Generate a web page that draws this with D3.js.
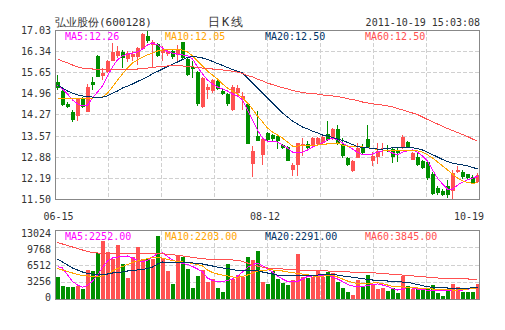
<!DOCTYPE html>
<html><head><meta charset="utf-8">
<script src="https://cdn.jsdelivr.net/npm/d3@7/dist/d3.min.js"></script>
<style>
body{margin:0;background:#fff}
text{font-family:"DejaVu Sans Mono",monospace;font-size:10px}
</style></head>
<body><svg id="c" width="505" height="330"></svg>
<script>
// Trading days, 2011-06-15 .. 2011-10-19
const dates = [
"06-15","06-16","06-17","06-20","06-21","06-22","06-23","06-24","06-27","06-28","06-29","06-30",
"07-01","07-04","07-05","07-06","07-07","07-08","07-11","07-12","07-13","07-14","07-15","07-18","07-19","07-20","07-21","07-22","07-25","07-26","07-27","07-28","07-29",
"08-01","08-02","08-03","08-04","08-05","08-08","08-09","08-10","08-11","08-12","08-15","08-16","08-17","08-18","08-19","08-22","08-23","08-24","08-25","08-26","08-29","08-30","08-31",
"09-01","09-02","09-05","09-06","09-07","09-08","09-09","09-13","09-14","09-15","09-16","09-19","09-20","09-21","09-22","09-23","09-26","09-27","09-28","09-29","09-30",
"10-10","10-11","10-12","10-13","10-14","10-17","10-18","10-19"];
const dateTicks = ["06-15","08-12","10-19"];

const open = [15.36,15.05,14.64,14.35,14.24,14.79,14.37,15.33,16.20,15.55,
15.66,16.03,16.21,16.34,16.11,16.15,16.15,16.41,16.84,16.57,
16.59,16.29,16.26,16.35,16.24,16.64,16.11,15.83,15.68,14.53,
15.09,15.04,15.39,15.06,14.96,14.44,14.99,14.79,14.63,12.67,
13.58,12.95,13.68,13.61,13.57,13.27,13.21,12.48,12.62,13.26,
13.32,13.28,13.30,13.35,13.64,13.50,13.81,13.31,12.87,12.43,
12.87,13.23,13.48,12.76,12.90,13.15,13.20,13.15,13.09,13.17,
13.37,12.79,12.90,12.76,12.74,12.32,11.89,11.78,11.95,11.78,
12.39,12.41,12.32,12.25,12.08];
const high = [15.57,15.08,14.70,14.43,14.80,14.86,15.27,15.52,16.22,15.81,
16.05,16.61,16.53,16.40,16.35,16.36,16.50,16.95,17.03,16.73,
16.62,16.51,16.42,16.40,16.57,16.66,16.15,16.02,15.72,15.50,
15.28,15.45,15.42,15.10,15.00,15.25,15.25,15.02,14.65,13.25,
14.40,13.50,13.72,13.65,13.60,13.30,13.25,12.70,13.36,13.51,
13.40,13.55,13.55,13.60,14.06,13.85,13.94,13.50,12.90,12.79,
13.34,13.30,13.94,13.06,13.34,13.34,13.28,13.23,13.18,13.61,
13.40,13.05,13.06,12.80,12.78,12.40,11.95,11.85,12.14,12.47,
12.58,12.47,12.35,12.30,12.36];
const low = [15.08,14.57,14.50,14.05,14.08,14.48,14.35,15.08,15.50,15.41,
15.64,16.02,16.12,15.80,16.00,16.02,15.91,16.38,16.62,15.80,
16.16,16.02,16.20,16.10,16.02,16.10,15.55,15.48,14.55,14.50,
14.79,15.00,15.08,14.93,14.55,14.40,14.95,14.43,13.30,12.22,
13.40,12.64,13.42,13.40,13.16,13.15,12.75,12.26,12.26,12.91,
13.15,13.25,13.25,13.30,13.40,13.45,13.28,12.87,12.60,12.39,
12.85,12.98,13.18,12.61,12.65,12.92,13.05,12.68,12.72,13.15,
13.22,12.78,12.60,12.50,12.15,11.64,11.66,11.60,11.54,11.45,
12.36,12.18,12.15,12.00,12.03];
const close = [15.14,14.59,14.53,14.10,14.79,14.54,15.17,15.25,15.52,15.65,
16.03,16.34,16.36,16.12,16.29,16.26,16.46,16.93,16.70,16.65,
16.20,16.39,16.35,16.15,16.40,16.13,15.58,15.77,14.61,15.48,
15.17,15.42,15.12,14.96,14.63,15.17,15.15,14.89,13.32,13.09,
13.41,13.49,13.46,13.48,13.41,13.19,12.77,12.64,13.35,13.31,
13.19,13.50,13.51,13.55,13.46,13.80,13.31,12.93,12.63,12.77,
13.20,13.01,13.20,12.93,13.09,13.20,13.15,12.90,13.03,13.56,
13.23,13.01,12.63,12.54,12.19,11.67,11.70,11.65,11.65,12.36,
12.47,12.25,12.21,12.03,12.30];
const volume = [4300,2550,2360,2360,2550,2040,5630,5380,8720,11040,
8970,7700,10290,6760,4120,8020,9910,7590,7700,7700,
11990,7780,5440,2930,8400,7960,5700,2110,4440,5570,
3360,3810,2110,1470,6700,3810,4620,4190,7960,7460,
9210,3360,2930,5380,3810,3170,2740,3680,8590,4190,
4000,4190,5440,4190,5250,5060,3360,2230,1470,850,
3680,2300,4620,2740,1920,2110,1660,2110,1290,4440,
2550,1920,1920,1920,2110,2740,1290,660,1920,2930,
2300,1470,1470,1470,2930];

const ma5 = [15.25,15.12,14.95,14.76,14.63,14.56,14.59,14.82,15.02,15.21,
15.54,15.84,16.07,16.20,16.26,16.29,16.33,16.42,16.56,16.62,
16.56,16.46,16.33,16.29,16.26,16.23,16.20,16.10,15.84,15.61,
15.41,15.28,15.18,15.12,15.05,14.95,14.89,14.76,14.43,14.10,
13.77,13.51,13.41,13.41,13.38,13.28,13.19,13.05,13.05,13.05,
13.12,13.22,13.28,13.35,13.45,13.51,13.45,13.35,13.25,13.15,
13.05,12.96,12.96,12.99,13.05,13.09,13.09,13.02,12.96,13.05,
13.09,13.12,13.05,12.92,12.76,12.47,12.20,12.01,11.84,11.84,
11.97,12.07,12.14,12.20,12.26];
const ma10 = [14.82,14.82,14.82,14.80,14.79,14.79,14.80,14.82,14.84,14.85,
14.98,15.18,15.41,15.61,15.80,15.97,16.06,16.16,16.23,16.29,
16.36,16.39,16.41,16.41,16.41,16.39,16.33,16.20,16.03,15.87,
15.70,15.57,15.44,15.28,15.15,15.05,14.95,14.82,14.66,14.46,
14.23,14.04,13.84,13.71,13.61,13.51,13.38,13.25,13.25,13.27,
13.28,13.28,13.28,13.30,13.32,13.33,13.35,13.28,13.25,13.23,
13.23,13.22,13.20,13.17,13.14,13.12,13.10,13.09,13.09,13.09,
13.09,13.09,13.09,13.05,12.96,12.86,12.73,12.60,12.47,12.33,
12.20,12.11,12.06,12.03,12.05];
const ma20 = [15.25,15.15,15.05,14.98,14.92,14.89,14.87,14.85,14.85,14.85,
14.89,14.98,15.05,15.15,15.21,15.28,15.36,15.44,15.52,15.61,
15.69,15.77,15.85,15.93,16.00,16.08,16.15,16.18,16.16,16.13,
16.08,16.02,15.95,15.89,15.82,15.75,15.70,15.64,15.48,15.31,
15.15,14.98,14.82,14.66,14.49,14.33,14.20,14.07,13.97,13.87,
13.81,13.74,13.68,13.61,13.58,13.53,13.48,13.43,13.37,13.30,
13.23,13.20,13.19,13.17,13.15,13.15,13.17,13.19,13.20,13.20,
13.20,13.19,13.17,13.12,13.05,12.97,12.89,12.81,12.74,12.69,
12.66,12.63,12.60,12.55,12.50];
const ma60 = [16.10,16.03,15.97,15.90,15.84,15.80,15.79,15.77,15.75,15.75,
15.75,15.75,15.75,15.75,15.75,15.76,15.77,15.79,15.80,15.82,
15.84,15.85,15.87,15.87,15.87,15.87,15.85,15.84,15.82,15.80,
15.79,15.77,15.75,15.74,15.72,15.70,15.67,15.62,15.56,15.51,
15.44,15.38,15.31,15.26,15.21,15.16,15.12,15.07,15.03,15.00,
14.98,14.97,14.95,14.92,14.90,14.89,14.87,14.84,14.80,14.77,
14.74,14.69,14.66,14.63,14.61,14.59,14.56,14.53,14.48,14.43,
14.38,14.33,14.28,14.20,14.12,14.04,13.97,13.90,13.82,13.76,
13.69,13.63,13.56,13.48,13.41];

const vma5 = [6190,5950,4620,3400,2740,2300,2640,3490,4620,6040,
7270,7830,8020,8120,8210,7830,7360,7170,7360,8020,
8680,8780,8120,7460,7080,6800,6610,6230,5760,5190,
4060,3590,3400,3400,3590,3870,4440,5190,6040,6610,
6830,6420,5760,5190,4440,3870,3400,3360,3400,3870,
4340,4440,4440,4530,4620,4250,3870,3400,2830,2550,
2450,2450,2640,2830,2930,2740,2450,2080,1790,1980,
2270,2170,1980,1890,1740,1660,1700,1790,1740,1660,
1700,1790,1920,2080,2252];
const vma10 = [5850,5570,5290,5000,4720,4530,4440,4340,4250,4440,
4810,5380,5850,6230,6610,6980,7270,7460,7740,7930,
8020,7830,7550,7360,7170,7080,6980,6800,6610,6320,
5570,5100,4810,4620,4440,4250,4190,4340,4620,5000,
5380,5510,5570,5570,5470,5380,5190,5060,4950,4810,
4720,4440,4340,4400,4530,4530,4250,3870,3490,3210,
3020,2930,3020,3110,3170,3020,2740,2450,2360,2360,
2300,2270,2170,2130,2080,1980,1920,1870,1830,1790,
1790,1890,1980,2080,2203];
const vma20 = [7600,7080,6510,5950,5570,5190,4910,4810,4810,4810,
4810,5000,5100,5190,5380,5470,5570,5660,5850,6130,
6700,7080,6980,6980,6980,6890,6890,6890,6830,6700,
6510,6320,6130,5950,5850,5660,5470,5440,5440,5440,
5440,5190,5000,4810,4620,4530,4440,4440,4440,4440,
4490,4570,4620,4720,4810,4810,4620,4440,4340,4190,
4060,3930,3810,3680,3620,3550,3490,3440,3360,3300,
3210,3060,2830,2640,2400,2300,2250,2210,2170,2170,
2130,2110,2130,2210,2291];
const vma60 = [10760,10480,10190,9910,9630,9340,9060,8870,8780,8720,
8700,8720,8750,8740,8700,8690,8700,8690,8680,8660,
8700,8630,8530,8440,8340,8210,8080,7950,7830,7720,
7610,7570,7530,7490,7460,7460,7420,7170,6890,6510,
6320,6130,5950,5890,5830,5760,5700,5640,5570,5550,
5510,5470,5440,5420,5380,5320,5290,5250,5210,5170,
5130,5100,5080,5060,4980,4910,4830,4760,4680,4620,
4530,4450,4380,4300,4230,4150,4060,3990,3950,3920,
3900,3880,3870,3855,3845];

const priceTicks = [17.03,16.34,15.65,14.96,14.27,13.57,12.88,12.19,11.50];
const volTicks = [13024,9768,6512,3256,0];

const maNames = ["MA5","MA10","MA20","MA60"];
const maColors = ["#ff00ff","#ffa500","#003366","#ff5050"];
const priceMaLabels = ["12.26","12.05","12.50","12.50"];
const volMaLabels = ["2252.00","2203.00","2291.00","3845.00"];

const UP = "#ff5252", DOWN = "#008f00";

const svg = d3.select("#c");
const L = 55, R = 480, PT = 30.5, PB = 199.5, VT = 230.5, VB = 299.5;

const x = d3.scaleBand().domain(dates).range([L, R]);
const y = d3.scaleLinear().domain([11.50, 17.03]).range([PB, PT]);
const yv = d3.scaleLinear().domain([0, 13024]).range([VB, VT]);
const yvLabel = d3.scaleLinear().domain([0, 13024]).range([297, 233]);
const px = v => Math.round(v - 0.5) + 0.5;

const defs = svg.append("defs");
defs.append("clipPath").attr("id", "clipP").append("rect").attr("x", L).attr("y", PT).attr("width", R - L).attr("height", PB - PT);
defs.append("clipPath").attr("id", "clipV").append("rect").attr("x", L).attr("y", VT).attr("width", R - L).attr("height", VB - VT);

// header
svg.append("text").attr("x", 55).attr("y", 26).style("font-size", "11px").attr("fill", "#333")
  .text("弘业股份(600128)");
svg.append("text").attr("x", 208).attr("y", 26).style("font-size", "12px").attr("fill", "#333")
  .style("letter-spacing", "2px").text("日K线");
svg.append("text").attr("x", 480).attr("y", 26).attr("text-anchor", "end").attr("fill", "#333")
  .text("2011-10-19 15:03:08");

// grids
function grid(top, bottom, levels, scale) {
  const g = svg.append("g").attr("stroke", "#d0d0d0").attr("stroke-dasharray", "4,2")
    .attr("shape-rendering", "crispEdges");
  levels.forEach(v => {
    const yy = px(scale(v));
    if (yy > top + 1 && yy < bottom - 1)
      g.append("line").attr("x1", L).attr("x2", R).attr("y1", yy).attr("y2", yy);
  });
  for (let k = 1; k < 8; k++) {
    const xx = px(L + (R - L) * k / 8);
    g.append("line").attr("x1", xx).attr("x2", xx).attr("y1", top).attr("y2", bottom);
  }
}
grid(PT, PB, priceTicks, y);
grid(VT, VB, volTicks, yv);

// price axis labels
svg.append("g").selectAll("text").data(priceTicks).join("text")
  .attr("x", 51).attr("y", d => y(d)).attr("dy", "0.35em").attr("text-anchor", "end")
  .attr("fill", "#333").text(d => d.toFixed(2));
svg.append("g").selectAll("text").data(volTicks).join("text")
  .attr("x", 51).attr("y", d => yvLabel(d)).attr("dy", "0.35em").attr("text-anchor", "end")
  .attr("fill", "#333").text(d => d);

// date labels
svg.append("g").selectAll("text").data(dateTicks).join("text")
  .attr("x", (d, i) => i === dateTicks.length - 1 ? R + 4 : x(d) + (i === 0 ? x.bandwidth() / 2 + 1 : 0))
  .attr("y", 220).attr("text-anchor", (d, i) => i === dateTicks.length - 1 ? "end" : "middle")
  .attr("fill", "#333").text(d => d);

// candles
const idx = d3.range(dates.length);
const cg = svg.append("g").attr("clip-path", "url(#clipP)").attr("shape-rendering", "crispEdges");
const colorOf = i => close[i] >= open[i] ? UP : DOWN;
cg.selectAll("rect.w").data(idx).join("rect").attr("class", "w")
  .attr("x", i => x(dates[i]) + 2).attr("width", 1)
  .attr("y", i => y(high[i])).attr("height", i => Math.max(1, y(low[i]) - y(high[i])))
  .attr("fill", colorOf);
cg.selectAll("rect.b").data(idx).join("rect").attr("class", "b")
  .attr("x", i => x(dates[i]) + 1).attr("width", 4)
  .attr("y", i => y(Math.max(open[i], close[i])))
  .attr("height", i => Math.max(1, Math.abs(y(open[i]) - y(close[i]))))
  .attr("fill", colorOf);

// volume bars
const vg = svg.append("g").attr("clip-path", "url(#clipV)").attr("shape-rendering", "crispEdges");
vg.selectAll("rect").data(idx).join("rect")
  .attr("x", i => x(dates[i]) + 1).attr("width", 4)
  .attr("y", i => yv(volume[i])).attr("height", i => VB - yv(volume[i]))
  .attr("fill", colorOf);

// moving averages
function maLine(series, scale, color, clip) {
  const line = d3.line().x((d, i) => x(dates[i]) + 2.5).y(d => scale(d));
  svg.append("path").attr("d", line(series)).attr("fill", "none").attr("stroke", color)
    .attr("stroke-width", 1).attr("shape-rendering", "crispEdges").attr("clip-path", clip);
}
[ma5, ma10, ma20, ma60].forEach((s, k) => maLine(s, y, maColors[k], "url(#clipP)"));
[vma5, vma10, vma20, vma60].forEach((s, k) => maLine(s, yv, maColors[k], "url(#clipV)"));

// frames
[[PT, PB], [VT, VB]].forEach(([t, b]) => {
  svg.append("rect").attr("x", L + 0.5).attr("y", t).attr("width", R - L - 1).attr("height", b - t)
    .attr("fill", "none").attr("stroke", "#888").attr("shape-rendering", "crispEdges");
});

// legends
const legendColors = ["#ff00ff","#ffa500","#003366","#ff5050"];
maNames.forEach((n, k) => {
  svg.append("text").attr("x", 65 + 100 * k).attr("y", 40).attr("fill", legendColors[k])
    .text(n + ":" + priceMaLabels[k]);
  svg.append("text").attr("x", 65 + 100 * k).attr("y", 240).attr("fill", legendColors[k])
    .text(n + ":" + volMaLabels[k]);
});
</script></body></html>
